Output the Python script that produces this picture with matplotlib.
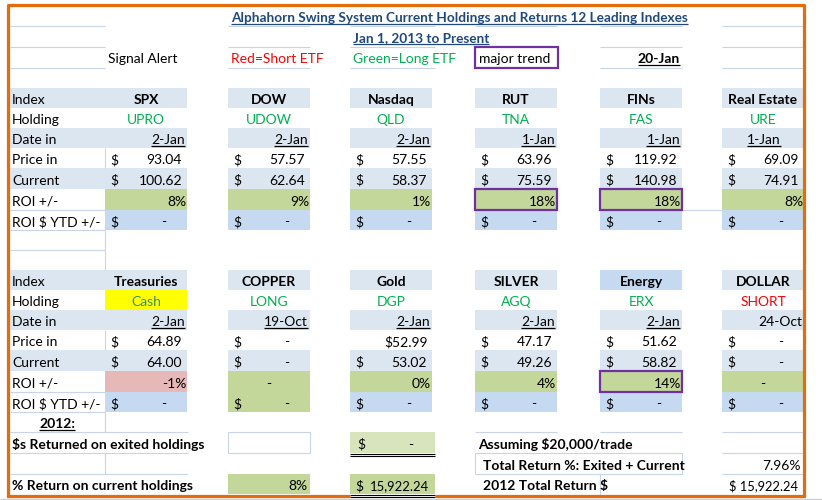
import matplotlib.pyplot as plt
from matplotlib.patches import Rectangle

plt.rcParams['font.family'] = ['Lato', 'DejaVu Sans']

# table values
top_index = ['SPX', 'DOW', 'Nasdaq', 'RUT', 'FINs', 'Real Estate']
top_holding = ['UPRO', 'UDOW', 'QLD', 'TNA', 'FAS', 'URE']
top_date = ['2-Jan', '2-Jan', '2-Jan', '1-Jan', '1-Jan', '1-Jan']
top_price_in = [93.04, 57.57, 57.55, 63.96, 119.92, 69.09]
top_current = [100.62, 62.64, 58.37, 75.59, 140.98, 74.91]
top_roi = ['8%', '9%', '1%', '18%', '18%', '8%']

bot_index = ['Treasuries', 'COPPER', 'Gold', 'SILVER', 'Energy', 'DOLLAR']
bot_holding = ['Cash', 'LONG', 'DGP', 'AGQ', 'ERX', 'SHORT']
bot_date = ['2-Jan', '19-Oct', '2-Jan', '2-Jan', '2-Jan', '24-Oct']
bot_price_in = [64.89, None, 52.99, 47.17, 51.62, None]
bot_current = [64.00, None, 53.02, 49.26, 58.82, None]
bot_roi = ['-1%', '-', '0%', '4%', '14%', '-']

row_labels = ['Index', 'Holding', 'Date in', 'Price in', 'Current', 'ROI +/-', 'ROI $ YTD +/-']
title = 'Alphahorn Swing System Current Holdings and Returns 12 Leading Indexes'
subtitle = 'Jan 1, 2013 to Present'
alert_date = '20-Jan'
exited_return = '-'
current_return_pct = '8%'
current_return_usd = '15,922.24'
total_return_pct = '7.96%'
total_return_usd = '$ 15,922.24'

# colours
LIGHT = '#DCE6F1'
BLUE = '#C5D9F1'
GREEN = '#C4D79B'
PALEGREEN = '#D8E4BC'
PINK = '#E6B8B7'
YELLOW = '#FFFF00'
PURPLE = '#7030A0'
ORANGE = '#E46C0A'
GRID = '#C9D5E6'
GTEXT = '#00B050'
RTEXT = '#FF0000'
TCOL = '#1F497D'

fig = plt.figure(figsize=(8.22, 5.0), dpi=100)
ax = fig.add_axes([0, 0, 1, 1])
ax.set_xlim(0, 822)
ax.set_ylim(500, 0)
ax.axis('off')

FS = 10
underlined = []


def box(x, y, w, h, fc='none', ec='none', lw=1.0, z=1):
    ax.add_patch(Rectangle((x, y), w, h, facecolor=fc, edgecolor=ec, lw=lw, zorder=z))


def txt(x, y, s, ha='left', color='black', bold=False, under=False, size=FS):
    t = ax.text(x, y, s, ha=ha, va='baseline', color=color, fontsize=size,
                fontweight='bold' if bold else 'normal', zorder=6)
    if under:
        underlined.append((t, color))
    return t


def hline(x0, x1, y, color=GRID, lw=0.8, z=2):
    ax.plot([x0, x1], [y, y], color=color, lw=lw, zorder=z, solid_capstyle='butt')


def vline(x, y0, y1, color=GRID, lw=0.8):
    ax.plot([x, x], [y0, y1], color=color, lw=lw, zorder=2, solid_capstyle='butt')


block_x = [105, 228, 350, 475, 600, 722]
BW = 82
LX0 = 10
edges = [0, 20, 40, 60, 80, 101, 122, 142]

# header area
for x0, x1 in [(LX0, 105), (228, 310), (350, 435), (475, 557), (600, 682), (722, 803)]:
    hline(x0, x1, 26)
for x0, x1 in [(LX0, 105), (228, 310), (350, 435), (600, 682), (722, 803)]:
    hline(x0, x1, 47)
    hline(x0, x1, 68)

txt(231, 22, title, color=TCOL, bold=True, under=True, size=9.8)
txt(353, 42, subtitle, color=TCOL, bold=True, under=True, size=9.8)
txt(108, 63, 'Signal Alert')
txt(231, 63, 'Red=Short ETF', color=RTEXT)
txt(353, 63, 'Green=Long ETF', color=GTEXT)
box(475, 47, 83, 21, fc='white', ec=PURPLE, lw=1.6, z=3)
txt(479, 63, 'major trend')
txt(680, 63, alert_date, ha='right', bold=True, under=True)

centered_dates = {'Real Estate'}
plain_dates = {'DOLLAR'}
joined_price = {'Gold'}
boxed_roi = {'RUT', 'FINs', 'Energy'}


def section(top, index, holding, dates, price_in, current, roi):
    ys = [top + e for e in edges]
    base = [ys[i + 1] - 4 for i in range(7)]
    # label column
    for r in (0, 2, 4):
        box(LX0, ys[r], 105 - LX0, ys[r + 1] - ys[r], fc=LIGHT)
    hline(LX0, 105, ys[6])
    hline(LX0, 105, ys[7])
    vline(105, ys[3], ys[4])
    for r, lab in enumerate(row_labels):
        txt(12, base[r], lab)
    for k, bx in enumerate(block_x):
        name = index[k]
        hfill = BLUE if name == 'Energy' else LIGHT
        box(bx, ys[0], BW, ys[1] - ys[0], fc=hfill)
        if holding[k] == 'Cash':
            box(bx, ys[1], BW, ys[2] - ys[1], fc=YELLOW)
        box(bx, ys[2], BW, ys[3] - ys[2], fc=LIGHT)
        box(bx, ys[4], BW, ys[5] - ys[4], fc=LIGHT)
        rfill = PINK if roi[k].startswith('-') and roi[k] != '-' else GREEN
        box(bx, ys[5], BW, ys[6] - ys[5], fc=rfill)
        yfill = GREEN if name == 'COPPER' else BLUE
        box(bx, ys[6], BW, ys[7] - ys[6], fc=yfill)
        if name in boxed_roi:
            box(bx, ys[5], BW, ys[6] - ys[5], ec=PURPLE, lw=1.6, z=4)

        cx = bx + BW / 2
        txt(cx, base[0], name, ha='center', bold=True)
        if holding[k] == 'SHORT':
            hcol = RTEXT
        elif holding[k] == 'Cash':
            hcol = '#3A8F62'
        else:
            hcol = GTEXT
        txt(cx, base[1], holding[k], ha='center', color=hcol)
        if name in centered_dates:
            txt(cx + 1, base[2], dates[k], ha='center', under=True)
        else:
            txt(bx + 80, base[2], dates[k], ha='right', under=name not in plain_dates)
        for r, v in ((3, price_in[k]), (4, current[k])):
            if v is None:
                txt(bx + 5, base[r], '$')
                txt(bx + 59, base[r], '-', ha='center')
            elif name in joined_price and r == 3:
                txt(bx + 78, base[r], f'${v:.2f}', ha='right')
            else:
                txt(bx + 5, base[r], '$')
                txt(bx + 77, base[r], f'{v:.2f}', ha='right')
        if roi[k] == '-':
            txt(cx, base[5], '-', ha='center')
        else:
            txt(bx + 81, base[5], roi[k], ha='right')
        txt(bx + 5, base[6], '$')
        txt(bx + 59, base[6], '-', ha='center')


section(88, top_index, top_holding, top_date, top_price_in, top_current, top_roi)
section(270, bot_index, bot_holding, bot_date, bot_price_in, bot_current, bot_roi)
hline(682, 722, 210)
vline(105, 230, 270)
hline(LX0, 105, 250)

# summary rows
for y in (432, 453, 474):
    hline(LX0, 188, y)
vline(105, 412, 432)
vline(105, 453, 474)
txt(57, 428, '2012:', ha='center', bold=True, under=True)
txt(12, 449, '$s Returned on exited holdings', bold=True)
box(228, 432, BW, 21, fc='white', ec=GRID, lw=0.8, z=2)
box(350, 432, 85, 21, fc=PALEGREEN)
txt(357, 449, '$')
txt(411, 449, exited_return, ha='center')
hline(350, 435, 453.5, color='black', lw=0.8, z=3)
hline(350, 435, 455.5, color='black', lw=0.8, z=3)

txt(12, 490, '% Return on current holdings', bold=True)
box(228, 474, BW, 20, fc=GREEN)
txt(307, 490, current_return_pct, ha='right')
box(350, 474, 85, 20, fc=GREEN)
txt(355, 490, '$')
txt(429, 490, current_return_usd, ha='right', size=9.4)
hline(350, 435, 494.5, color='black', lw=0.8, z=3)
hline(350, 435, 496.5, color='black', lw=0.8, z=3)

for x0, x1 in [(475, 557), (600, 682), (722, 803)]:
    hline(x0, x1, 432)
txt(478, 449, 'Assuming $20,000/trade', bold=True)
box(475, 453, 207, 21, ec=GRID, lw=0.8, z=2)
hline(722, 803, 453)
hline(722, 803, 474)
vline(600, 474, 497)
txt(483, 470, 'Total Return %: Exited + Current', bold=True)
txt(801, 470, total_return_pct, ha='right')
txt(483, 490, '2012 Total Return $', bold=True)
txt(798, 490, total_return_usd, ha='right', size=9.3)

# orange frame
ax.plot([8, 8, 804, 804], [496, 5, 5, 496], color=ORANGE, lw=2.3, zorder=7)
hline(8, 350, 496, color=ORANGE, lw=2.3, z=7)
hline(435, 804, 496, color=ORANGE, lw=2.3, z=7)
hline(0, 822, 499, color='#D0D0D0', lw=1.0)

# underline the texts that need it
fig.canvas.draw()
r = fig.canvas.get_renderer()
inv = ax.transData.inverted()
for t, col in underlined:
    bb = t.get_window_extent(r)
    (x0, _), (x1, _) = inv.transform([[bb.x0, bb.y0], [bb.x1, bb.y1]])
    yb = t.get_position()[1] + 2
    hline(x0, x1, yb, color=col, lw=0.9, z=6)

fig.savefig('out.png', dpi=100)
